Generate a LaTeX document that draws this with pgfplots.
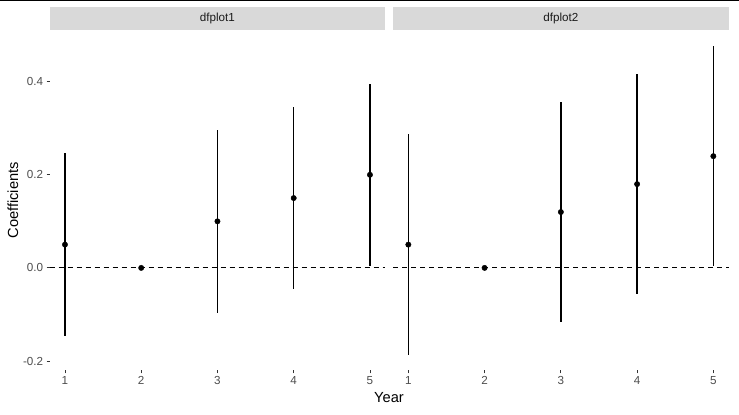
\documentclass[border=0pt]{standalone}
\usepackage{fontspec}
\setmainfont{Liberation Sans}
\usepackage{pgfplots}
\usepackage{pgfplotstable}
\pgfplotsset{compat=1.18}

\definecolor{stripgray}{HTML}{D9D9D9}
\definecolor{ticktext}{HTML}{4D4D4D}
\definecolor{tickgray}{HTML}{333333}
\definecolor{striptext}{HTML}{1A1A1A}

% coefficient, half-width of the interval
\pgfplotstableread{
x y ep em
1 0.05 0.196 0.196
2 0.00 0.000 0.000
3 0.10 0.196 0.196
4 0.15 0.196 0.196
5 0.20 0.196 0.196
}\dfone
\pgfplotstableread{
x y ep em
1 0.05 0.237 0.237
2 0.00 0.000 0.000
3 0.12 0.237 0.237
4 0.18 0.237 0.237
5 0.24 0.237 0.237
}\dftwo

\pgfplotsset{
  panel/.style={
    scale only axis, width=335.5bp, height=339.8bp,
    xmin=0.8, xmax=5.2, ymin=-0.220, ymax=0.510,
    axis line style={draw=none},
    xtick={1,2,3,4,5}, ytick={-0.2,0,0.2,0.4},
    tick pos=left, tick align=outside, major tick length=3bp,
    tick style={color=tickgray, line width=0.8bp},
    ticklabel style={font=\fontsize{11.7}{13}\selectfont, text=ticktext},
    /pgf/number format/assume math mode=true,
    yticklabel style={/pgf/number format/.cd, fixed, fixed zerofill, precision=1},
    clip=false,
  },
  coef/.style={only marks, mark=*, mark size=2.7bp, black,
    error bars/.cd, y dir=both, y explicit, error mark=none,
    error bar style={line width=1.4bp, black}},
  zeroline/.style={black, line width=1.1bp, dash pattern=on 5bp off 4bp},
}

\begin{document}
\begin{tikzpicture}
\path[use as bounding box] (0,0) rectangle (739bp,415bp);
\fill[black] (0,413.6bp) rectangle (739bp,415bp);

\begin{axis}[panel, at={(49.7bp,44.7bp)}, anchor=south west]
\addplot[zeroline] coordinates {(0.8,0) (5.2,0)};
\addplot[coef] table[x=x, y=y, y error plus=ep, y error minus=em] {\dfone};
\fill[stripgray] ([yshift=0.5bp]rel axis cs:0,1) rectangle ([yshift=23.5bp]rel axis cs:1,1);
\node[font=\fontsize{11.7}{13}\selectfont, text=striptext] at ([yshift=12bp]rel axis cs:0.5,1) {dfplot1};
\end{axis}

\begin{axis}[panel, ytick=\empty, at={(393.1bp,44.7bp)}, anchor=south west]
\addplot[zeroline] coordinates {(0.8,0) (5.2,0)};
\addplot[coef] table[x=x, y=y, y error plus=ep, y error minus=em] {\dftwo};
\fill[stripgray] ([yshift=0.5bp]rel axis cs:0,1) rectangle ([yshift=23.5bp]rel axis cs:1,1);
\node[font=\fontsize{11.7}{13}\selectfont, text=striptext] at ([yshift=12bp]rel axis cs:0.5,1) {dfplot2};
\end{axis}

\node[font=\fontsize{14.7}{16}\selectfont] at (389bp,17bp) {Year};
\node[font=\fontsize{14.7}{16}\selectfont, rotate=90] at (13bp,214.6bp) {Coefficients};
\end{tikzpicture}
\end{document}
